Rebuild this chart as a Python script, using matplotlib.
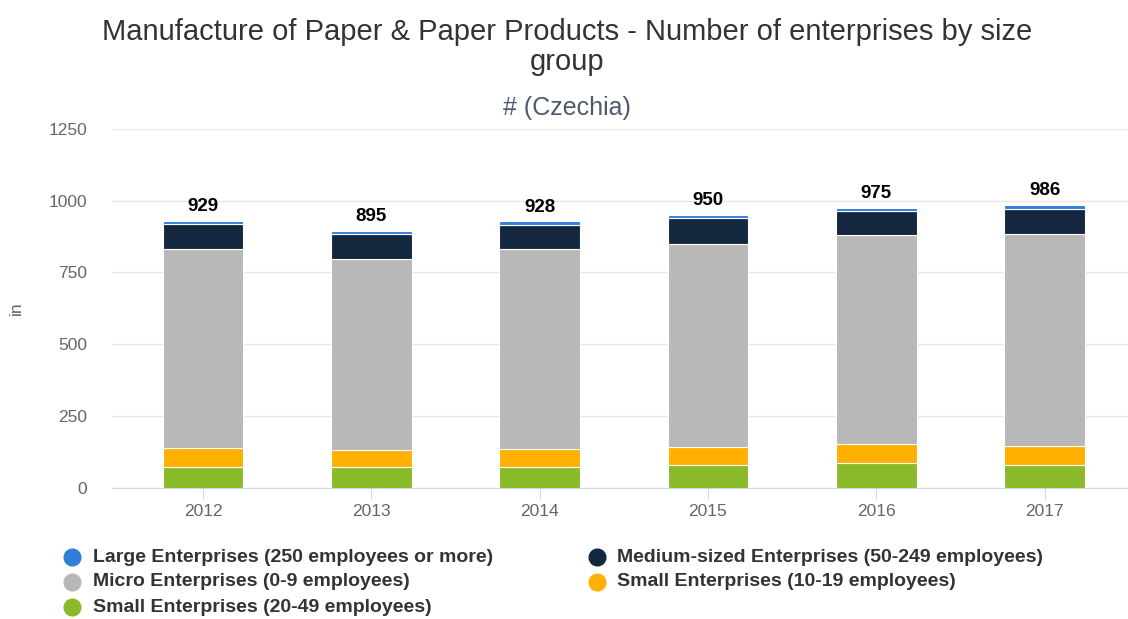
import matplotlib.pyplot as plt
import numpy as np
from matplotlib.lines import Line2D

plt.rcParams['font.family'] = ['Liberation Sans', 'DejaVu Sans']

years = ['2012', '2013', '2014', '2015', '2016', '2017']
small_20_49 = [73, 73, 73, 78, 85, 78]
small_10_19 = [67, 58, 63, 63, 66, 68]
micro = [693, 667, 694, 708, 728, 738]
medium = [86, 84, 86, 90, 84, 87]
large = [10, 13, 12, 11, 12, 15]
totals = [929, 895, 928, 950, 975, 986]

series = [
    (small_20_49, '#8aba2a', 'Small Enterprises (20-49 employees)'),
    (small_10_19, '#ffb000', 'Small Enterprises (10-19 employees)'),
    (micro, '#b8b8b8', 'Micro Enterprises (0-9 employees)'),
    (medium, '#13283f', 'Medium-sized Enterprises (50-249 employees)'),
    (large, '#2f7ed8', 'Large Enterprises (250 employees or more)'),
]

fig = plt.figure(figsize=(11.28, 6.19), dpi=100)
ax = fig.add_axes([112 / 1128, 1 - 487.7 / 619, 1016 / 1128, 358.9 / 619])

x = np.arange(len(years))
bottom = np.zeros(len(years))
for vals, col, lab in series:
    ax.bar(x, vals, width=0.48, bottom=bottom, color=col,
           edgecolor='white', linewidth=0.8, zorder=3)
    bottom += np.array(vals)

for xi, t in zip(x, totals):
    ax.text(xi, t + 20, str(t), ha='center', va='bottom',
            fontsize=13.5, fontweight='bold', color='black')

ax.set_xlim(-91 / 168.3, (1128 - 203) / 168.3)
ax.set_ylim(0, 1250)
ax.set_yticks([0, 250, 500, 750, 1000, 1250])
ax.set_xticks(x)
ax.set_xticklabels(years)
ax.tick_params(axis='y', length=0, labelsize=12.5, labelcolor='#666666', pad=18)
ax.tick_params(axis='x', length=8, color='#ccd6eb', labelsize=12.5,
               labelcolor='#666666', pad=4)
ax.grid(axis='y', color='#e6e6e6', linewidth=1, zorder=0)
for s in ['top', 'right', 'left']:
    ax.spines[s].set_visible(False)
ax.spines['bottom'].set_color('#ccd6eb')
ax.set_ylabel('in', color='#666666', fontsize=12.5)
ax.yaxis.set_label_coords(-88 / 1016, 0.5)

fig.text(0.503, 1 - 32 / 619, 'Manufacture of Paper & Paper Products - Number of enterprises by size',
         ha='center', va='center', fontsize=21, color='#333333')
fig.text(0.503, 1 - 62 / 619, 'group', ha='center', va='center',
         fontsize=21, color='#333333')
fig.text(0.503, 1 - 108 / 619, '# (Czechia)', ha='center', va='center',
         fontsize=18, color='#4d5a70')

# legend laid out in two columns, row by row
order = [series[4], series[3], series[2], series[1], series[0]]
rows_y = [557, 582, 607]
cols_x = [(72, 93), (597, 617)]
for i, (vals, col, lab) in enumerate(order):
    r, c = divmod(i, 2)
    mx, tx = cols_x[c]
    yy = 1 - rows_y[r] / 619
    fig.add_artist(Line2D([mx / 1128], [yy], marker='o', markersize=12,
                          color=col, linestyle='none'))
    fig.text(tx / 1128, yy, lab, ha='left', va='center', fontsize=14,
             fontweight='bold', color='#333333')

fig.savefig('out.png', dpi=100)
